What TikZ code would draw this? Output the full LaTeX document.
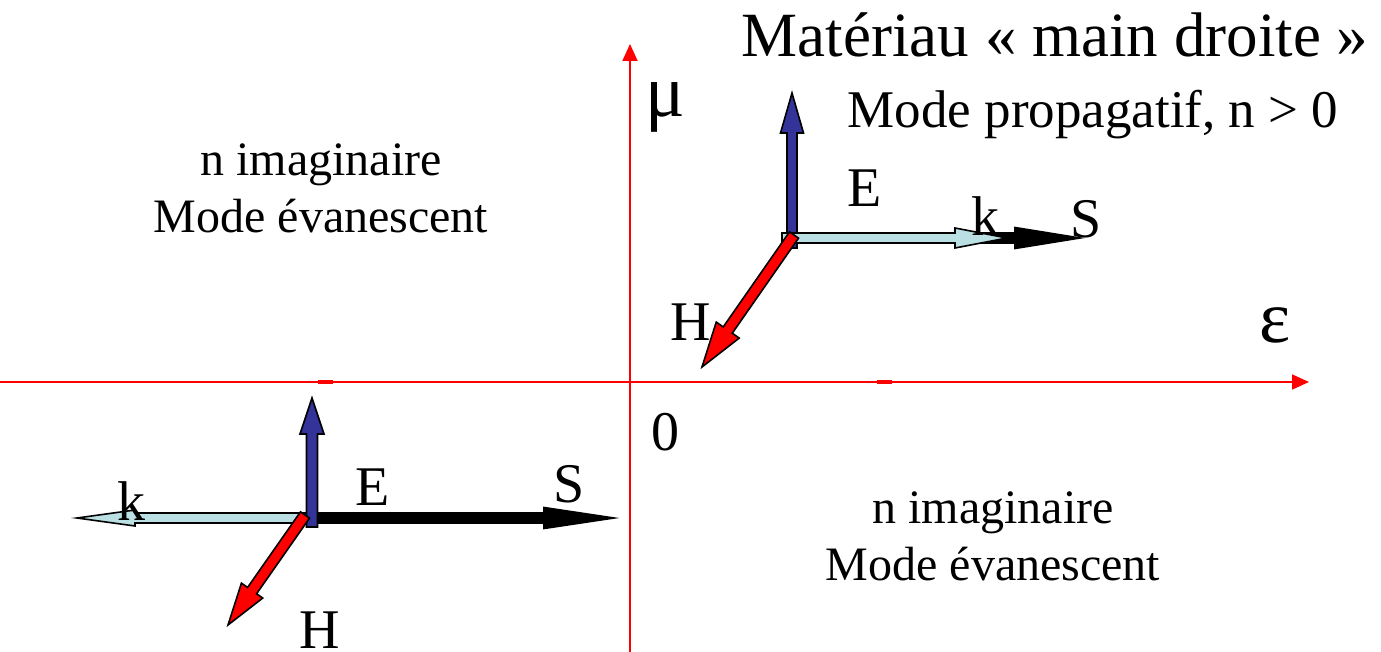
\documentclass[tikz,border=0pt]{standalone}
\usepackage{fontspec}
\setmainfont{Liberation Serif}
\usetikzlibrary{calc,arrows.meta}
\definecolor{eblue}{HTML}{333399}
\definecolor{kcyan}{HTML}{BBE0E3}
\definecolor{hred}{HTML}{FF0000}
\newcommand\fatarrow[6]{%
  \draw[line width=1.6pt, line join=miter, fill=#6]
    ($(#1)!#3!90:(#2)$) --
    ($($(#2)!#5!(#1)$)!#3!-90:(#1)$) --
    ($($(#2)!#5!(#1)$)!#4!-90:(#1)$) --
    (#2) --
    ($($(#2)!#5!(#1)$)!#4!90:(#1)$) --
    ($($(#2)!#5!(#1)$)!#3!90:(#1)$) --
    ($(#1)!#3!-90:(#2)$) -- cycle;}
\tikzset{
  axis/.style={draw=hred, line width=1.8pt, -{Triangle[length=17pt,width=15pt]}},
  tick/.style={draw=hred, line width=3.5pt},
  lbl/.style={anchor=base, inner sep=0pt, font=\fontsize{56}{62}\selectfont},
  greek/.style={anchor=base, inner sep=0pt, font=\fontsize{74}{80}\selectfont},
  txt/.style={anchor=base, inner sep=0pt, font=\fontsize{48}{56}\selectfont},
}
\begin{document}
\begin{tikzpicture}[x=1pt,y=-1pt]
\useasboundingbox (0,0) rectangle (1381,652);
% axes
\coordinate (xs) at (0,382);
\coordinate (xe) at (1309,382);
\coordinate (ys) at (630,652);
\coordinate (ye) at (630,44);
\draw[axis] (xs) -- (xe);
\draw[axis] (ys) -- (ye);
\coordinate (t1a) at (318,382); \coordinate (t1b) at (333,382);
\coordinate (t2a) at (877,382); \coordinate (t2b) at (892,382);
\draw[tick] (t1a) -- (t1b);
\draw[tick] (t2a) -- (t2b);
% upper group
\coordinate (uEo) at (792,248); \coordinate (uEt) at (792,93);
\coordinate (uSo) at (792,238); \coordinate (uSt) at (1080,238);
\coordinate (uKo) at (782,238); \coordinate (uKt) at (1007,238);
\coordinate (uHo) at (794,235); \coordinate (uHt) at (702,367);
\fatarrow{uEo}{uEt}{5pt}{11.5pt}{40pt}{eblue}
\fatarrow{uSo}{uSt}{5pt}{10.5pt}{65pt}{black}
\fatarrow{uKo}{uKt}{5pt}{10pt}{52pt}{kcyan}
\fatarrow{uHo}{uHt}{5.5pt}{14pt}{45pt}{hred}
% lower group
\coordinate (lSo) at (312,518); \coordinate (lSt) at (614,518);
\coordinate (lKo) at (312,518); \coordinate (lKt) at (77,518);
\coordinate (lEo) at (312,527); \coordinate (lEt) at (312,398);
\coordinate (lHo) at (305,515); \coordinate (lHt) at (228,625);
\fatarrow{lKo}{lKt}{5pt}{8pt}{58pt}{kcyan}
\fatarrow{lSo}{lSt}{5pt}{10.5pt}{70pt}{black}
\fatarrow{lEo}{lEt}{5.5pt}{12pt}{36pt}{eblue}
\fatarrow{lHo}{lHt}{5.5pt}{13pt}{42pt}{hred}
% labels
\node[greek] (mu) at (665,117) {μ};
\node[greek] (eps) at (1275,342) {ε};
\node[lbl] (zero) at (665,450) {0};
\node[lbl] (uE) at (865,207) {E};
\node[lbl] (uk) at (985,236) {k};
\node[lbl] (uS) at (1086,238) {S};
\node[lbl] (uH) at (691,340) {H};
\node[lbl] (lk) at (131,520) {k};
\node[lbl] (lE) at (373,505) {E};
\node[lbl] (lS) at (569,502) {S};
\node[lbl] (lH) at (320,648) {H};
% texts
\node[anchor=base, inner sep=0pt, font=\fontsize{63}{70}\selectfont] (title) at (1055,57) {Matériau « main droite »};
\node[anchor=base, inner sep=0pt, font=\fontsize{53}{60}\selectfont] (prop) at (1093,128) {Mode propagatif, n > 0};
\node[txt] (ni1) at (321,176) {n imaginaire};
\node[txt] (me1) at (321,233) {Mode évanescent};
\node[txt] (ni2) at (993,523) {n imaginaire};
\node[txt] (me2) at (993,580) {Mode évanescent};
\end{tikzpicture}
\end{document}
